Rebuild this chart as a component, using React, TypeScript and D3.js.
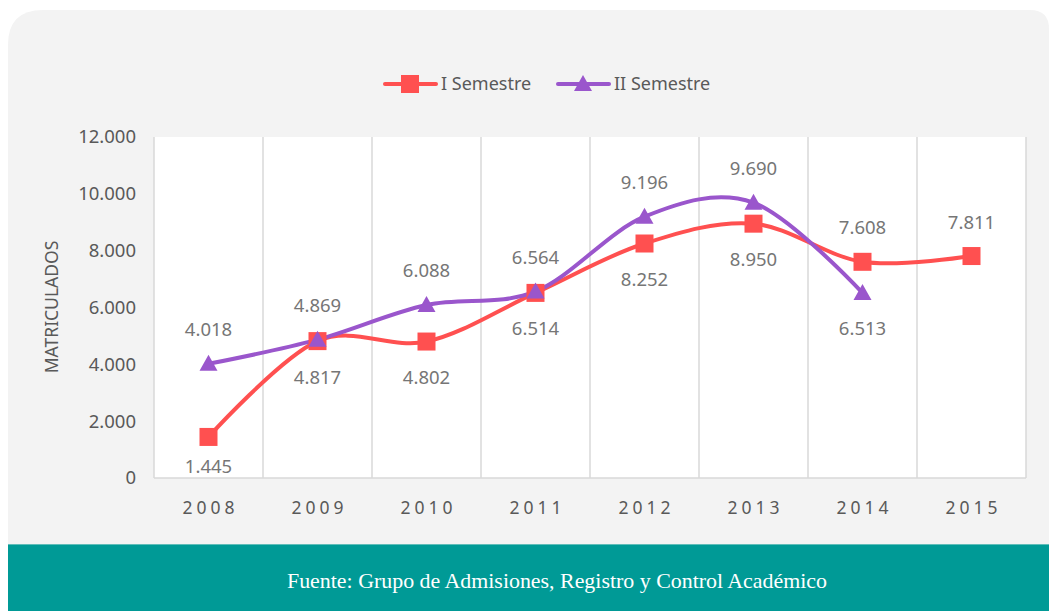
import React from "react";
import * as d3 from "d3";

const years = ["2008", "2009", "2010", "2011", "2012", "2013", "2014", "2015"];
const semestre1 = [1445, 4817, 4802, 6514, 8252, 8950, 7608, 7811];
const semestre2 = [4018, 4869, 6088, 6564, 9196, 9690, 6513];
const label1Pos = ["below", "below", "below", "below", "below", "below", "above", "above"];
const label2Pos = ["above", "above", "above", "above", "above", "above", "below"];
const yTicks = [0, 2000, 4000, 6000, 8000, 10000, 12000];
const seriesNames = ["I Semestre", "II Semestre"];

const W = 1049;
const H = 611;
const plot = { left: 154, right: 1026, top: 137, bottom: 478 };
const RED = "#ff5050";
const PURPLE = "#9a56cc";
const FONT = "'Noto Sans', 'Open Sans', sans-serif";

const fmt = (v: number) => {
  if (v === 0) return "0";
  const s = String(Math.round(v));
  return s.replace(/\B(?=(\d{3})+(?!\d))/g, ".");
};

export default function App() {
  const x = d3.scaleBand<string>().domain(years).range([plot.left, plot.right]).padding(0);
  const y = d3.scaleLinear().domain([0, 12000]).range([plot.bottom, plot.top]);
  const cx = (i: number) => (x(years[i]) as number) + x.bandwidth() / 2;

  const line = d3
    .line<number>()
    .x((_, i) => cx(i))
    .y((d) => y(d))
    .curve(d3.curveCardinal.tension(0));

  const boundaries = years.map((yr) => x(yr) as number).concat([plot.right]);

  const square = (px: number, py: number, key: string) => (
    <rect key={key} x={px - 9} y={py - 9} width={18} height={18} fill={RED} />
  );
  const tri = (px: number, py: number, key: string) => (
    <path key={key} d={`M${px},${py - 9} L${px + 9},${py + 7} L${px - 9},${py + 7} Z`} fill={PURPLE} />
  );

  const labelY = (v: number, pos: string) => {
    const py = y(v);
    if (pos === "above") return py - 34;
    return Math.min(py + 36, plot.bottom - 11);
  };

  const panelPath = `M8,45 Q8,10 43,10 L1030,10 Q1049,10 1049,29 L1049,611 L8,611 Z`;

  return (
    <svg width={W} height={H} style={{ position: "absolute", left: 0, top: 0 }}>
      <rect x={0} y={0} width={W} height={H} fill="#ffffff" />
      <path d={panelPath} fill="#f3f3f3" />
      <rect x={154} y={137} width={872} height={341} fill="#ffffff" />
      {boundaries.map((bx, i) => (
        <line key={"g" + i} x1={bx} x2={bx} y1={plot.top} y2={plot.bottom} stroke="#d9d9d9" strokeWidth={1.5} />
      ))}
      <line x1={plot.left} x2={plot.right} y1={plot.bottom} y2={plot.bottom} stroke="#d9d9d9" strokeWidth={1.5} />

      {yTicks.map((t) => (
        <text
          key={"yt" + t}
          x={136}
          y={y(t)}
          dy="0.35em"
          textAnchor="end"
          fontFamily={FONT}
          fontSize={18.5}
          fill="#595959"
        >
          {fmt(t)}
        </text>
      ))}
      {years.map((yr, i) => (
        <text
          key={"xt" + yr}
          x={cx(i) + 2}
          y={508}
          dy="0.35em"
          textAnchor="middle"
          fontFamily={FONT}
          fontSize={17.5}
          letterSpacing={4}
          fill="#595959"
        >
          {yr}
        </text>
      ))}
      <text
        transform="translate(52,307) rotate(-90)"
        textAnchor="middle"
        dy="0.35em"
        fontFamily={FONT}
        fontSize={17.5}
        fill="#595959"
      >
        MATRICULADOS
      </text>

      <path d={line(semestre1) || ""} fill="none" stroke={RED} strokeWidth={4} strokeLinecap="round" />
      <path d={line(semestre2) || ""} fill="none" stroke={PURPLE} strokeWidth={4} strokeLinecap="round" />
      {semestre1.map((v, i) => square(cx(i), y(v), "s" + i))}
      {semestre2.map((v, i) => tri(cx(i), y(v), "t" + i))}

      {semestre1.map((v, i) => (
        <text
          key={"l1" + i}
          x={cx(i)}
          y={labelY(v, label1Pos[i])}
          dy="0.35em"
          textAnchor="middle"
          fontFamily={FONT}
          fontSize={18.5}
          fill="#767676"
        >
          {fmt(v)}
        </text>
      ))}
      {semestre2.map((v, i) => (
        <text
          key={"l2" + i}
          x={cx(i)}
          y={labelY(v, label2Pos[i])}
          dy="0.35em"
          textAnchor="middle"
          fontFamily={FONT}
          fontSize={18.5}
          fill="#767676"
        >
          {fmt(v)}
        </text>
      ))}

      <line x1={385} x2={436} y1={84} y2={84} stroke={RED} strokeWidth={4} strokeLinecap="round" />
      {square(410, 84, "leg1")}
      <text x={441} y={84} dy="0.35em" fontFamily={FONT} fontSize={18} fill="#595959">
        {seriesNames[0]}
      </text>
      <line x1={558} x2={609} y1={84} y2={84} stroke={PURPLE} strokeWidth={4} strokeLinecap="round" />
      {tri(583, 84, "leg2")}
      <text x={614} y={84} dy="0.35em" fontFamily={FONT} fontSize={18} fill="#595959">
        {seriesNames[1]}
      </text>

      <rect x={8} y={544} width={1041} height={67} fill="#009a96" />
      <line x1={8} x2={1049} y1={544.5} y2={544.5} stroke="#5fbdb9" strokeWidth={1} />
      <text
        x={557}
        y={588}
        textAnchor="middle"
        fontFamily="'Liberation Serif', serif"
        fontSize={21}
        textLength={540}
        lengthAdjust="spacingAndGlyphs"
        fill="#ffffff"
      >
        Fuente: Grupo de Admisiones, Registro y Control Académico
      </text>
    </svg>
  );
}
